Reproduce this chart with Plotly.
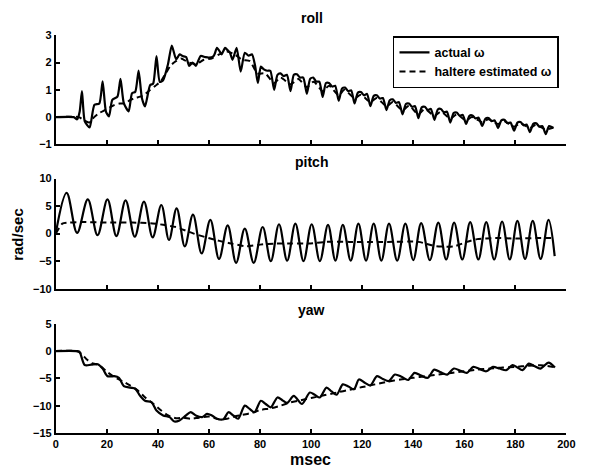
import plotly.graph_objects as go

# ---------------- data ----------------
roll_actual_t = [0, 7, 8.3, 9.3, 10.2, 11.3, 13.2, 15.1, 17.0, 18.3, 19.6, 20.8, 22.1, 24.1, 25.3, 26.6,
                 28.5, 29.8, 31.1, 32.4, 33.7, 34.9, 36.9, 38.1, 39.4, 40.7, 42.0, 43.9, 45.4, 47.1,
                 48.5, 49.6, 51.0, 52.2, 53.5, 54.8, 56.7, 58.5, 59.9, 61.8, 63.1, 64.2, 64.9, 66.3,
                 67.3, 68.2, 69.2, 70.8, 72.4, 74.0, 75.5, 76.8, 78.0, 79.1, 80.3, 81.5, 82.8, 84.0,
                 85.5, 86.8, 88.0, 89.2, 90.5, 91.9, 93.2, 94.4, 95.6, 96.9, 98.3, 99.6, 100.8, 102.0,
                 103.2, 104.5, 105.8, 107.0, 108.2, 109.4, 110.8, 112.1, 113.3, 114.5, 115.7, 117.0,
                 118.3, 119.5, 120.7, 121.9, 123.2, 124.5, 125.7, 126.9, 128.1, 129.5, 130.8, 132.0,
                 133.2, 134.4, 135.8, 137.1, 138.3, 139.5, 140.7, 142.0, 143.3, 144.5, 145.7, 146.9,
                 148.3, 149.6, 150.8, 152.0, 153.2, 154.5, 155.8, 157.0, 158.2, 159.4, 160.7, 162.0,
                 163.2, 164.4, 165.6, 167.0, 168.3, 169.5, 170.7, 171.9, 173.2, 174.5, 175.7, 176.9,
                 178.1, 179.5, 180.8, 182.0, 183.2, 184.4, 185.7, 187.0, 188.2, 189.4, 190.6, 191.9,
                 193.2, 194.9]
roll_actual_v = [0, 0, -0.08, 0.2, 0.95, -0.15, -0.38, 0.45, 0.5, 1.31, 0.2, 0.03, 0.63, 0.75, 1.4, 0.51,
                 0.21, 0.87, 0.93, 1.7, 0.69, 0.39, 1.17, 1.23, 2.24, 1.29, 1.35, 1.94, 2.62, 2.12,
                 2.3, 2.24, 2.2, 1.88, 2.0, 1.88, 2.24, 2.2, 2.18, 2.24, 2.54, 2.4, 2.3, 2.54,
                 2.45, 2.36, 2.1, 2.54, 1.67, 2.36, 2.25, 2.3, 1.9, 1.25, 1.85, 1.75, 1.7, 1.7,
                 1.0, 1.55, 1.6, 1.5, 1.55, 0.95, 1.55, 1.57, 1.45, 1.45, 0.86, 1.4, 1.45, 1.3,
                 1.3, 0.74, 1.25, 1.25, 1.12, 1.15, 0.6, 1.05, 1.08, 0.95, 0.98, 0.5,
                 0.9, 0.92, 0.8, 0.85, 0.4, 0.78, 0.8, 0.68, 0.7, 0.26, 0.62, 0.65,
                 0.52, 0.55, 0.1, 0.48, 0.5, 0.38, 0.4, -0.04, 0.36, 0.38, 0.26, 0.3,
                 -0.1, 0.28, 0.3, 0.18, 0.2, -0.2, 0.15, 0.17, 0.05, 0.08, -0.25, 0.05,
                 0.06, -0.05, -0.02, -0.32, -0.05, -0.03, -0.15, -0.12, -0.4, -0.12, -0.1, -0.22,
                 -0.2, -0.5, -0.2, -0.18, -0.3, -0.27, -0.55, -0.25, -0.23, -0.35, -0.33, -0.62,
                 -0.33, -0.4]

roll_est_t = [0, 9, 11, 13, 15, 17, 19, 21, 23, 25, 27, 29, 31, 33, 35, 37, 39, 41, 43, 45, 47, 49,
              52, 55, 58, 61, 64, 67, 70, 73, 76, 79, 82, 85.5, 88, 92, 95, 98.3, 101, 104.5, 107,
              110.8, 113, 117, 119.5, 123.2, 125.7, 129.5, 132, 135.8, 138.3, 142, 144.5, 148.3,
              150.8, 154.5, 157, 160.7, 163, 167, 169.5, 173.2, 175.7, 179.5, 182, 185.7, 188,
              191.9, 194.9]
roll_est_v = [0, 0, -0.12, -0.2, 0.0, 0.15, 0.25, 0.35, 0.45, 0.5, 0.5, 0.62, 0.7, 0.75, 0.85, 1.0,
              1.15, 1.3, 1.6, 1.9, 2.05, 2.15, 2.0, 1.95, 2.1, 2.15, 2.3, 2.4, 2.3, 2.1, 2.05, 1.6,
              1.6, 1.25, 1.45, 1.2, 1.4, 1.1, 1.3, 0.95, 1.15, 0.8, 1.0, 0.7, 0.82, 0.55, 0.7, 0.4,
              0.55, 0.25, 0.42, 0.1, 0.3, 0.05, 0.2, -0.05, 0.1, -0.12, 0.0, -0.18, -0.08, -0.25,
              -0.15, -0.35, -0.22, -0.4, -0.28, -0.45, -0.38]

pitch_actual_t = [0, 4.2, 8.3, 12.5, 16.3, 20.2, 23.7, 27.3, 30.9, 34.5, 37.9, 41.3, 44.3, 47.3, 50.5,
                  53.7, 57.1, 60.5, 63.9, 67.3, 70.6, 74.0, 77.5, 81.0, 84.2, 87.4, 90.6, 93.8, 97.0,
                  100.2, 103.4, 106.6, 109.5, 112.4, 115.5, 118.5, 121.5, 124.5, 127.5, 130.5, 133.7,
                  136.9, 140.0, 143.1, 146.5, 149.8, 152.9, 156.0, 159.2, 162.3, 165.5, 168.6, 171.7,
                  174.8, 177.8, 180.8, 183.8, 186.8, 189.9, 193.0, 195.4]
pitch_actual_v = [0.2, 7.4, 0.15, 6.2, -0.27, 6.2, -0.44, 6.05, -0.57, 5.8, -0.67, 5.2, -1.15, 4.6, -2.3,
                  3.45, -3.6, 2.5, -4.6, 1.5, -5.3, 0.9, -5.3, 1.2, -5.0, 1.7, -4.9, 1.8, -5.0,
                  1.7, -5.0, 1.6, -4.9, 1.6, -4.9, 1.8, -4.9, 1.8, -4.9, 1.8, -4.9,
                  1.8, -4.8, 1.9, -4.8, 2.0, -4.7, 2.0, -4.7, 2.1, -4.7, 2.1, -4.7,
                  2.2, -4.7, 2.3, -4.6, 2.3, -4.6, 2.5, -4.1]

pitch_est_t = [0, 2.5, 5, 10, 20, 30, 37, 42, 47, 54, 60.5, 67.6, 74.6, 80, 86, 92, 99, 106, 115,
               124, 130, 142, 149, 156, 161, 165, 172, 181, 188, 195.4]
pitch_est_v = [0, 1.8, 2.0, 2.1, 2.0, 2.0, 1.9, 1.6, 1.2, 0.0, -0.9, -1.7, -2.3, -2.0, -1.8, -1.8,
               -1.8, -1.5, -1.5, -1.5, -1.5, -1.5, -2.3, -2.3, -1.5, -1.0, -0.8, -0.9, -0.8, -0.8]

yaw_actual_t = [0, 8, 9.2, 11.3, 13.8, 16.4, 18.3, 20.2, 22.8, 24.7, 26.6, 29.2, 31.1, 33.0, 34.9,
                37.5, 39.4, 42.0, 44.5, 46.4, 48.4, 50.9, 52.8, 54.8, 57.3, 59.2, 61.1, 63.1, 65.6,
                67.6, 69.5, 71.4, 74.0, 75.9, 77.8, 80.3, 82.2, 84.2, 86.8, 88.7, 90.6, 93.2, 96.4,
                99.5, 101.4, 103.4, 106.0, 108.0, 110.0, 112.4, 114.6, 116.8, 118.7, 121.0, 123.2,
                125.8, 128.1, 130.4, 132.8, 135.4, 138.0, 140.5, 143.1, 145.7, 148.2, 150.8, 153.3,
                155.9, 158.5, 161.0, 163.5, 166.1, 168.6, 171.2, 173.8, 176.4, 178.9, 180.8, 182.8,
                185.3, 187.6, 189.8, 193.0, 195.5]
yaw_actual_v = [0, 0, -0.1, -2.55, -2.5, -2.4, -3.2, -4.6, -4.6, -4.9, -6.4, -6.7, -6.9, -8.2, -9.1,
                -9.4, -10.9, -11.8, -12.1, -12.9, -12.7, -11.8, -11.2, -11.8, -12.1, -11.5, -11.8,
                -12.4, -12.5, -11.2, -11.8, -12.4, -10.0, -10.6, -11.2, -9.1, -9.7, -10.3, -8.5,
                -9.0, -9.5, -8.2, -9.7, -7.6, -8.0, -8.5, -6.7, -7.4, -8.0, -6.1, -6.5, -7.0, -5.2,
                -5.8, -6.3, -4.6, -5.1, -5.5, -4.3, -4.7, -5.3, -4.0, -4.5, -4.9, -3.4, -3.9, -4.3,
                -3.2, -3.6, -4.0, -2.9, -3.3, -3.7, -2.9, -3.2, -3.5, -2.55, -3.0, -3.5, -2.3,
                -2.8, -3.2, -2.1, -3.0]

yaw_est_t = [0, 8, 10, 12, 14, 17, 20, 23, 26, 29, 32, 35, 38, 41, 44, 47, 50, 53, 56, 60, 64, 67,
             70, 73, 77, 80, 84, 88, 92, 96, 100, 105, 110, 115, 120, 125, 130, 135, 140, 145, 150,
             155, 160, 165, 170, 175, 180, 185, 190, 195]
yaw_est_v = [0, 0, -0.5, -1.5, -2.2, -2.6, -3.8, -4.8, -5.5, -6.3, -7.2, -8.5, -9.6, -10.8, -11.8,
             -12.3, -12.2, -12.4, -12.2, -12.0, -12.5, -12.4, -12.0, -11.7, -11.3, -10.8, -10.5,
             -10.0, -9.4, -9.0, -8.6, -8.1, -7.6, -7.1, -6.6, -6.1, -5.6, -5.2, -4.9, -4.6, -4.3,
             -4.0, -3.7, -3.4, -3.2, -3.0, -2.9, -2.7, -2.6, -2.9]

x_ticks = [0, 20, 40, 60, 80, 100, 120, 140, 160, 180, 200]
roll_ticks = [-1, 0, 1, 2, 3]
pitch_ticks = [-10, -5, 0, 5, 10]
yaw_ticks = [-15, -10, -5, 0, 5]
panel_titles = ["roll", "pitch", "yaw"]
legend_names = ["actual ω", "haltere estimated ω"]

# ---------------- figure ----------------
W, H = 596, 476
FONT = "Liberation Sans, Arial, sans-serif"
solid = dict(color="black", width=2.2)
dashed = dict(color="black", width=2, dash="6px,4px")

fig = go.Figure()
panels = [
    ("", "y", roll_actual_t, roll_actual_v, roll_est_t, roll_est_v, 0.6, True),
    ("2", "y2", pitch_actual_t, pitch_actual_v, pitch_est_t, pitch_est_v, 1.0, False),
    ("3", "y3", yaw_actual_t, yaw_actual_v, yaw_est_t, yaw_est_v, 0.8, False),
]
for sfx, yref, at, av, et, ev, smooth, show in panels:
    fig.add_trace(go.Scatter(x=et, y=ev, mode="lines", name=legend_names[1],
                             line=dict(dashed, shape="spline", smoothing=0.6),
                             xaxis="x" + sfx, yaxis=yref, showlegend=show, legendrank=2))
    fig.add_trace(go.Scatter(x=at, y=av, mode="lines", name=legend_names[0],
                             line=dict(solid, shape="spline", smoothing=smooth),
                             xaxis="x" + sfx, yaxis=yref, showlegend=show, legendrank=1))

xdom = [54 / W, 575 / W]
def ydom(top, bottom):
    return [1 - bottom / H, 1 - top / H]

tickfont = dict(family=FONT, size=11, color="black", weight="bold")
common_axis = dict(showline=True, linecolor="black", linewidth=2, ticks="inside",
                   ticklen=4, tickwidth=1.5, tickcolor="black", showgrid=False,
                   zeroline=False, tickfont=tickfont)

layout_axes = {}
ydoms = [ydom(30, 142), ydom(177, 290), ydom(326, 438)]
yranges = [[-1, 3], [-10, 10], [-15, 5]]
yticks = [roll_ticks, pitch_ticks, yaw_ticks]
for i, sfx in enumerate(["", "2", "3"]):
    layout_axes["xaxis" + sfx] = dict(common_axis, domain=xdom, range=[0, 200],
                                      tickvals=x_ticks, anchor="y" + sfx,
                                      showticklabels=(i == 2))
    layout_axes["yaxis" + sfx] = dict(common_axis, domain=ydoms[i], range=yranges[i],
                                      tickvals=yticks[i], anchor="x" + sfx)

annotations = []
title_y = [12, 160, 312]
for name, ty in zip(panel_titles, title_y):
    annotations.append(dict(text=name, x=315 / W, y=1 - ty / H, xref="paper", yref="paper",
                            showarrow=False, xanchor="center", yanchor="middle",
                            font=dict(family=FONT, size=14, color="black", weight="bold")))
annotations.append(dict(text="rad/sec", x=14 / W, y=1 - 234 / H, xref="paper", yref="paper",
                        showarrow=False, textangle=-90, xanchor="center", yanchor="middle",
                        font=dict(family=FONT, size=15, color="black", weight="bold")))
annotations.append(dict(text="msec", x=314 / W, y=1 - 465 / H, xref="paper", yref="paper",
                        showarrow=False, xanchor="center", yanchor="middle",
                        font=dict(family=FONT, size=16, color="black", weight="bold")))

fig.update_layout(
    width=W, height=H, margin=dict(l=0, r=0, t=0, b=0),
    paper_bgcolor="white", plot_bgcolor="white",
    showlegend=True,
    legend=dict(x=398 / W, y=1 - 31 / H, xanchor="left", yanchor="top",
                bordercolor="black", borderwidth=1.5, bgcolor="white",
                font=dict(family=FONT, size=12.5, color="black", weight="bold"),
                tracegroupgap=0, itemwidth=30),
    annotations=annotations,
    **layout_axes,
)

fig.write_html("out.html")
